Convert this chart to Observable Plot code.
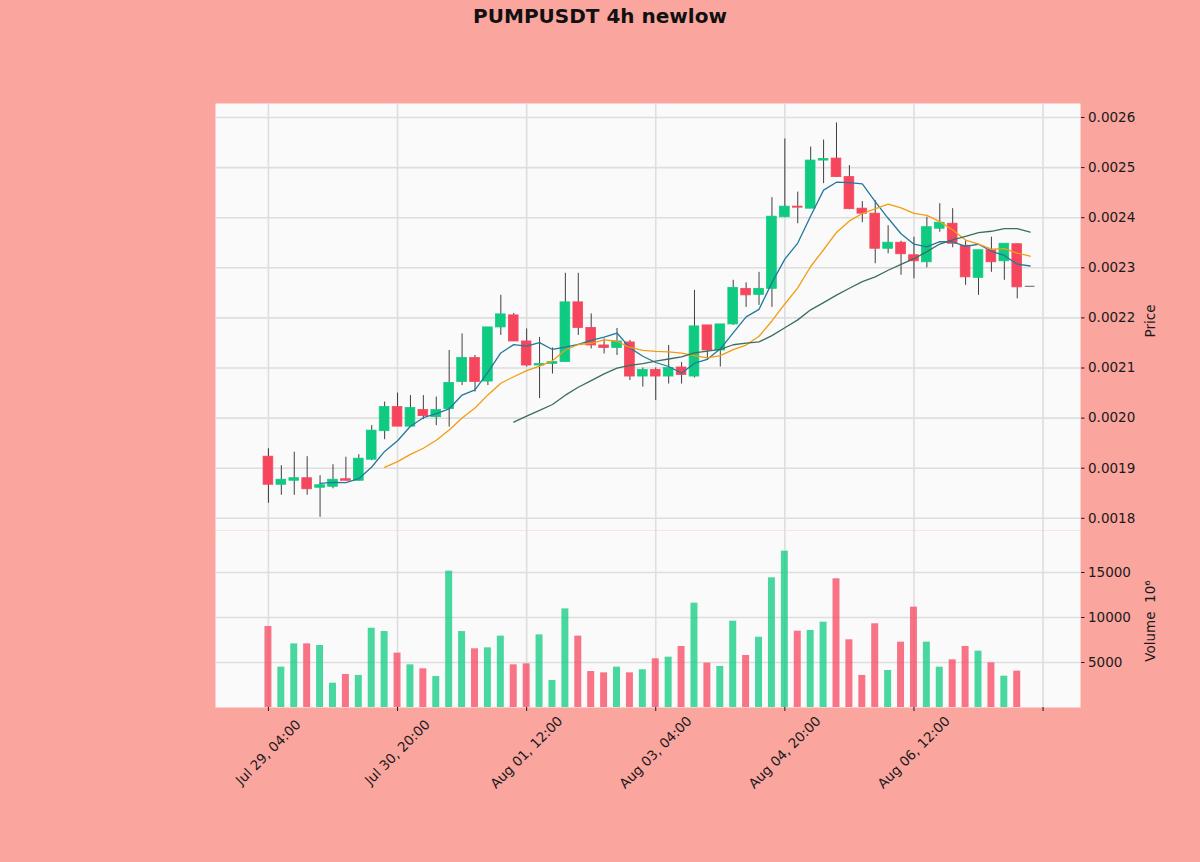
<!DOCTYPE html>
<html>
<head>
<meta charset="utf-8">
<script src="https://cdn.jsdelivr.net/npm/d3@7"></script>
<script src="https://cdn.jsdelivr.net/npm/@observablehq/plot@0.6"></script>
<style>
  html, body { margin: 0; padding: 0; }
  body { width: 1200px; height: 862px; background: #fba59f; overflow: hidden; font-family: "DejaVu Sans", sans-serif; }
  #wrap { position: relative; width: 1200px; height: 862px; }
  #title { position: absolute; top: 4px; left: 0; width: 1200px; text-align: center; font-weight: bold; font-size: 20px; color: #111; }
  #price, #vol { position: absolute; left: 0; }
  #price { top: 0; }
  #vol { top: 530px; }
</style>
</head>
<body>
<div id="wrap">
  <div id="title">PUMPUSDT 4h newlow</div>
  <div id="price"></div>
  <div id="vol"></div>
</div>
<script>
const opens  = [0.001923,0.001867,0.001875,0.001880,0.001861,0.001863,0.001878,0.001875,0.001917,0.001974,
                0.002022,0.001983,0.002016,0.002002,0.002018,0.002072,0.002120,0.002073,0.002181,0.002205,
                0.002153,0.002105,0.002108,0.002112,0.002231,0.002180,0.002145,0.002140,0.002151,0.002083,
                0.002096,0.002083,0.002101,0.002083,0.002185,0.002135,0.002187,0.002258,0.002246,0.002258,
                0.002401,0.002422,0.002418,0.002514,0.002518,0.002481,0.002418,0.002408,0.002338,0.002350,
                0.002325,0.002311,0.002378,0.002388,0.002344,0.002280,0.002335,0.002313,0.002347,0.002263];
const highs  = [0.001939,0.001905,0.001932,0.001923,0.001885,0.001907,0.001922,0.001927,0.001985,0.002032,
                0.002050,0.002045,0.002045,0.002042,0.002135,0.002168,0.002125,0.002181,0.002245,0.002209,
                0.002178,0.002161,0.002140,0.002289,0.002289,0.002208,0.002158,0.002179,0.002155,0.002100,
                0.002100,0.002145,0.002111,0.002255,0.002185,0.002187,0.002275,0.002270,0.002291,0.002440,
                0.002557,0.002451,0.002541,0.002555,0.002589,0.002504,0.002432,0.002434,0.002384,0.002353,
                0.002361,0.002401,0.002428,0.002418,0.002354,0.002335,0.002361,0.002348,0.002348,0.002263];
const lows   = [0.001830,0.001846,0.001846,0.001846,0.001802,0.001859,0.001874,0.001874,0.001915,0.001957,
                0.001983,0.001982,0.001997,0.001985,0.001982,0.002065,0.002052,0.002065,0.002165,0.002153,
                0.002102,0.002039,0.002088,0.002112,0.002165,0.002138,0.002128,0.002125,0.002075,0.002062,
                0.002035,0.002068,0.002068,0.002080,0.002115,0.002102,0.002185,0.002221,0.002225,0.002221,
                0.002400,0.002388,0.002418,0.002468,0.002480,0.002416,0.002390,0.002308,0.002328,0.002285,
                0.002278,0.002300,0.002371,0.002340,0.002265,0.002245,0.002291,0.002275,0.002238,0.002263];
const closes = [0.001867,0.001877,0.001880,0.001858,0.001866,0.001877,0.001875,0.001919,0.001975,0.002022,
                0.001983,0.002020,0.002004,0.002016,0.002070,0.002120,0.002072,0.002181,0.002207,0.002153,
                0.002105,0.002108,0.002112,0.002231,0.002180,0.002145,0.002140,0.002153,0.002083,0.002096,
                0.002083,0.002100,0.002086,0.002183,0.002135,0.002187,0.002260,0.002245,0.002258,0.002402,
                0.002422,0.002420,0.002514,0.002517,0.002481,0.002417,0.002408,0.002338,0.002350,0.002327,
                0.002313,0.002381,0.002390,0.002348,0.002281,0.002335,0.002311,0.002348,0.002261,0.002263];
const volumes = [9000,4480,7070,7070,6890,2700,3670,3560,8810,8440,
                 6040,4740,4300,3440,15150,8440,6520,6630,7930,4740,
                 4850,8070,3000,10960,7930,4000,3850,4480,3850,4190,
                 5410,5590,6780,11590,4930,4560,9590,5780,7810,14410,
                 17370,8480,8560,9480,14300,7520,3560,9300,4110,7260,
                 11150,7260,4480,5300,6780,6260,4960,3480,4040,0];
const tickIndex  = [0,10,20,30,40,50,60];
const tickLabels = ["Jul 29, 04:00","Jul 30, 20:00","Aug 01, 12:00","Aug 03, 04:00","Aug 04, 20:00","Aug 06, 12:00"];
const priceTicks = [0.0018,0.0019,0.0020,0.0021,0.0022,0.0023,0.0024,0.0025,0.0026];
const volTicks   = [5000,10000,15000];
const mavPeriods = [5,10,20];

const UP = "#0ecb81", DOWN = "#f6465d", FLAT = "#7a7a7a";
const mavColors = ["#24789e","#f39c12","#3b6e5f"];

const rows = opens.map((o,i) => ({i, o, h: highs[i], l: lows[i], c: closes[i], v: volumes[i],
  col: closes[i] > o ? UP : closes[i] < o ? DOWN : FLAT}));

function mav(n) {
  const out = [];
  for (let i = n - 1; i < closes.length; i++) out.push({i, v: d3.mean(closes.slice(i - n + 1, i + 1))});
  return out;
}

const xDomain = [-4.1, 62.9];
const gridStyle = {stroke: "#dedede", strokeOpacity: 1, strokeWidth: 1.6};
const style = {fontFamily: "DejaVu Sans, sans-serif", fontSize: "13.5px", color: "#1a1a1a", background: "transparent", overflow: "visible"};

const price = Plot.plot({
  width: 1200, height: 530,
  marginTop: 103, marginBottom: 0, marginLeft: 215, marginRight: 120,
  style,
  x: {domain: xDomain, axis: null},
  y: {domain: [0.0017757, 0.0026279], axis: null},
  marks: [
    Plot.frame({fill: "#fafafa", stroke: null}),
    Plot.gridY(priceTicks, gridStyle),
    Plot.gridX(tickIndex, gridStyle),
    Plot.ruleX(rows, {x: "i", y1: "l", y2: "h", stroke: "#2a2a2a", strokeWidth: 0.9}),
    Plot.rect(rows, {x1: d => d.i - 0.375, x2: d => d.i + 0.375, y1: "o", y2: "c", fill: "col", stroke: "col", strokeWidth: 0.8}),
    Plot.ruleY(rows, {filter: d => d.o === d.c, y: "c", x1: d => d.i - 0.375, x2: d => d.i + 0.375, stroke: FLAT, strokeWidth: 1.2}),
    ...mavPeriods.map((n, k) => Plot.line(mav(n), {x: "i", y: "v", stroke: mavColors[k], strokeWidth: 1.3})),
    Plot.axisY(priceTicks, {anchor: "right", tickFormat: d3.format(".4f"), tickSize: 3.5, tickPadding: 4, label: null}),
    Plot.text(["Price"], {frameAnchor: "right", dx: 70, dy: 4, rotate: -90, textAnchor: "middle"})
  ]
});
document.getElementById("price").appendChild(price);

const vol = Plot.plot({
  width: 1200, height: 332,
  marginTop: 0, marginBottom: 155, marginLeft: 215, marginRight: 120,
  style,
  x: {domain: xDomain, axis: null},
  y: {domain: [0, 19667], axis: null},
  marks: [
    Plot.frame({fill: "#fafafa", stroke: null}),
    Plot.gridY(volTicks, gridStyle),
    Plot.gridX(tickIndex, gridStyle),
    Plot.rect(rows, {x1: d => d.i - 0.27, x2: d => d.i + 0.27, y1: 0, y2: "v", fill: "col", fillOpacity: 0.75}),
    Plot.axisY(volTicks, {anchor: "right", tickSize: 3.5, tickPadding: 4, label: null, tickFormat: d => String(d)}),
    Plot.axisX(tickIndex, {anchor: "bottom", tickSize: 4, tickFormat: () => "", label: null}),
    Plot.text(tickLabels, {x: (d, i) => tickIndex[i], frameAnchor: "bottom", dy: 45, rotate: -45, textAnchor: "middle", lineAnchor: "middle"}),
    Plot.text(["Volume  10⁶"], {frameAnchor: "right", dx: 70, dy: 2, rotate: -90, textAnchor: "middle"})
  ]
});
document.getElementById("vol").appendChild(vol);
</script>
</body>
</html>
